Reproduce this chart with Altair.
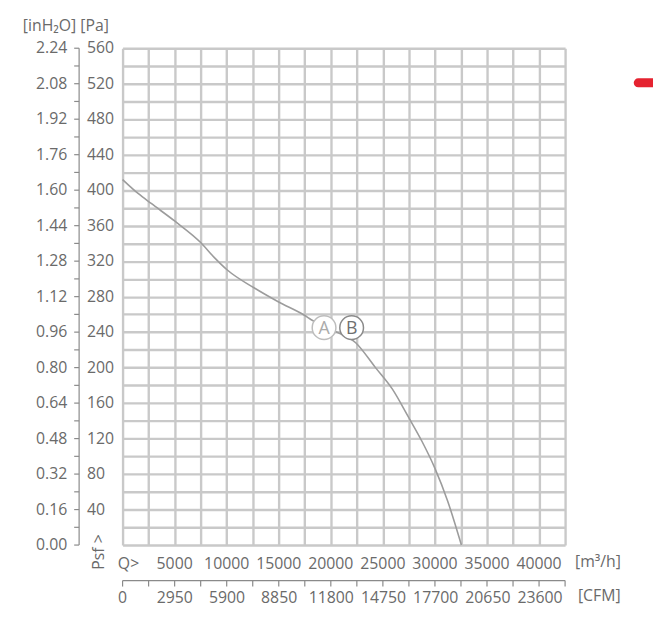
import altair as alt
import pandas as pd

# ---- data ----
Q = [0, 1520, 2750, 5030, 7500, 8820, 10060, 12620, 14990, 17460, 18120, 20000,
     22390, 24290, 25900, 27420, 28750, 29980, 31210, 32540]
PSF = [412, 396, 385, 365, 341, 324, 310, 290, 274, 259, 254, 243,
       228, 200, 176, 145, 117, 87, 50, 0]

POINT_NAMES = ["A", "B"]
POINT_Q = [19350, 22000]
POINT_PA = [245, 245]

PA_LABELS = [40, 80, 120, 160, 200, 240, 280, 320, 360, 400, 440, 480, 520, 560]
INH2O_VALUES = [0, 40, 80, 120, 160, 200, 240, 280, 320, 360, 400, 440, 480, 520, 560]
INH2O_LABELS = ["0.00", "0.16", "0.32", "0.48", "0.64", "0.80", "0.96", "1.12",
                "1.28", "1.44", "1.60", "1.76", "1.92", "2.08", "2.24"]
Q_LABELS = [5000, 10000, 15000, 20000, 25000, 30000, 35000, 40000]
CFM_LABELS = [0, 2950, 5900, 8850, 11800, 14750, 17700, 20650, 23600]
CFM_TO_M3H = 1.699

X_GRID = list(range(0, 42501, 2500))
Y_GRID = list(range(0, 561, 20))

FONT = "Open Sans"
TXT = "#6a6a6a"
GRID = "#c9c9c9"
FS = 16

X_SCALE = alt.Scale(domain=[0, 42500], nice=False, zero=False)
Y_SCALE = alt.Scale(domain=[0, 560], nice=False, zero=False)
X_AXIS = alt.Axis(values=X_GRID, grid=True, labels=False, ticks=False, domain=False,
                  title=None, gridColor=GRID, gridWidth=2.4, gridOpacity=1)
Y_AXIS = alt.Axis(values=Y_GRID, grid=True, labels=False, ticks=False, domain=False,
                  title=None, gridColor=GRID, gridWidth=2.4, gridOpacity=1)


def X(field):
    return alt.X(field, type="quantitative", scale=X_SCALE, axis=X_AXIS)


def Y(field):
    return alt.Y(field, type="quantitative", scale=Y_SCALE, axis=Y_AXIS)


curve_df = pd.DataFrame({"q": Q, "pa": PSF})
pts_df = pd.DataFrame({"name": POINT_NAMES, "q": POINT_Q, "pa": POINT_PA,
                       "stroke": ["#bdbdbd", "#8a8a8a"], "tc": ["#ababab", "#707070"]})
inh_df = pd.DataFrame({"pa": INH2O_VALUES, "inh": INH2O_LABELS})
pa_df = pd.DataFrame({"pa": PA_LABELS})
yticks_df = pd.DataFrame({"pa": Y_GRID})
xticks_df = pd.DataFrame({"q": X_GRID})
qlab_df = pd.DataFrame({"q": Q_LABELS, "lab": [str(v) for v in Q_LABELS]})
cfm_df = pd.DataFrame({"q": [c * CFM_TO_M3H for c in CFM_LABELS],
                       "lab": [str(c) for c in CFM_LABELS]})
span_df = pd.DataFrame({"q0": [0], "q1": [42500], "p0": [0], "p1": [560]})

curve = alt.Chart(curve_df).mark_line(
    interpolate="monotone", color="#9c9c9c", strokeWidth=1.6
).encode(x=X("q"), y=Y("pa"))

circles = alt.Chart(pts_df).mark_circle(
    size=576, fill="white", fillOpacity=1, strokeWidth=1.5, opacity=1
).encode(x=X("q"), y=Y("pa"), stroke=alt.Stroke("stroke:N", scale=None))

circle_txt = alt.Chart(pts_df).mark_text(
    font=FONT, fontSize=18, baseline="middle", align="center", dy=1
).encode(x=X("q"), y=Y("pa"), text="name:N", color=alt.Color("tc:N", scale=None))

# left axis line + ticks
left_line = alt.Chart(span_df).mark_rule(color="#8a8a8a", strokeWidth=1.2).encode(
    x=alt.value(-44), y=Y("p0"), y2="p1")
left_ticks = alt.Chart(yticks_df).mark_rule(color="#8a8a8a", strokeWidth=1.2).encode(
    y=Y("pa"), x=alt.value(-49), x2=alt.value(-44))
inh_txt = alt.Chart(inh_df).mark_text(
    font=FONT, fontSize=FS, color=TXT, align="right", baseline="middle"
).encode(y=Y("pa"), x=alt.value(-56), text="inh:N")
pa_txt = alt.Chart(pa_df).mark_text(
    font=FONT, fontSize=FS, color=TXT, align="left", baseline="middle"
).encode(y=Y("pa"), x=alt.value(-36), text="pa:Q")

# bottom labels
q_txt = alt.Chart(qlab_df).mark_text(
    font=FONT, fontSize=FS, color=TXT, align="center", baseline="middle"
).encode(x=X("q"), y=alt.value(522), text="lab:N")
cfm_line = alt.Chart(span_df).mark_rule(color="#8a8a8a", strokeWidth=1.2).encode(
    x=X("q0"), x2="q1", y=alt.value(539))
cfm_ticks = alt.Chart(xticks_df).mark_rule(color="#8a8a8a", strokeWidth=1.2).encode(
    x=X("q"), y=alt.value(539), y2=alt.value(545))
cfm_txt = alt.Chart(cfm_df).mark_text(
    font=FONT, fontSize=FS, color=TXT, align="center", baseline="middle"
).encode(x=X("q"), y=alt.value(557), text="lab:N")


# free labels
def label(text, x, y, align="left", angle=0, size=FS, color=TXT):
    kw = dict(text=text, font=FONT, fontSize=size, color=color, align=align, baseline="middle")
    if angle:
        kw["angle"] = angle
    return alt.Chart(span_df).mark_text(**kw).encode(x=alt.value(x), y=alt.value(y))


units_top = label("[inH₂O] [Pa]", -101, -22)
q_lead = label("Q>", 6, 522, align="center")
psf = label("Psf >", -24, 510, align="center", angle=270)
m3h = label("[m³/h]", 458, 520)
cfm = label("[CFM]", 461, 555)

red = alt.Chart(span_df).mark_rule(color="#e52330", strokeWidth=9, strokeCap="round").encode(
    x=alt.value(522), x2=alt.value(560), y=alt.value(35))

chart = alt.layer(
    curve, circles, circle_txt, left_line, left_ticks, inh_txt, pa_txt,
    q_txt, cfm_line, cfm_ticks, cfm_txt, units_top, q_lead, psf, m3h, cfm, red
).properties(
    width=448, height=503,
    padding={"left": 116, "top": 37, "right": 89, "bottom": 60},
    autosize=alt.AutoSizeParams(type="none"),
    background="white",
).configure_view(stroke=None)

chart.save("out.html", embed_options={"renderer": "svg", "actions": False})
